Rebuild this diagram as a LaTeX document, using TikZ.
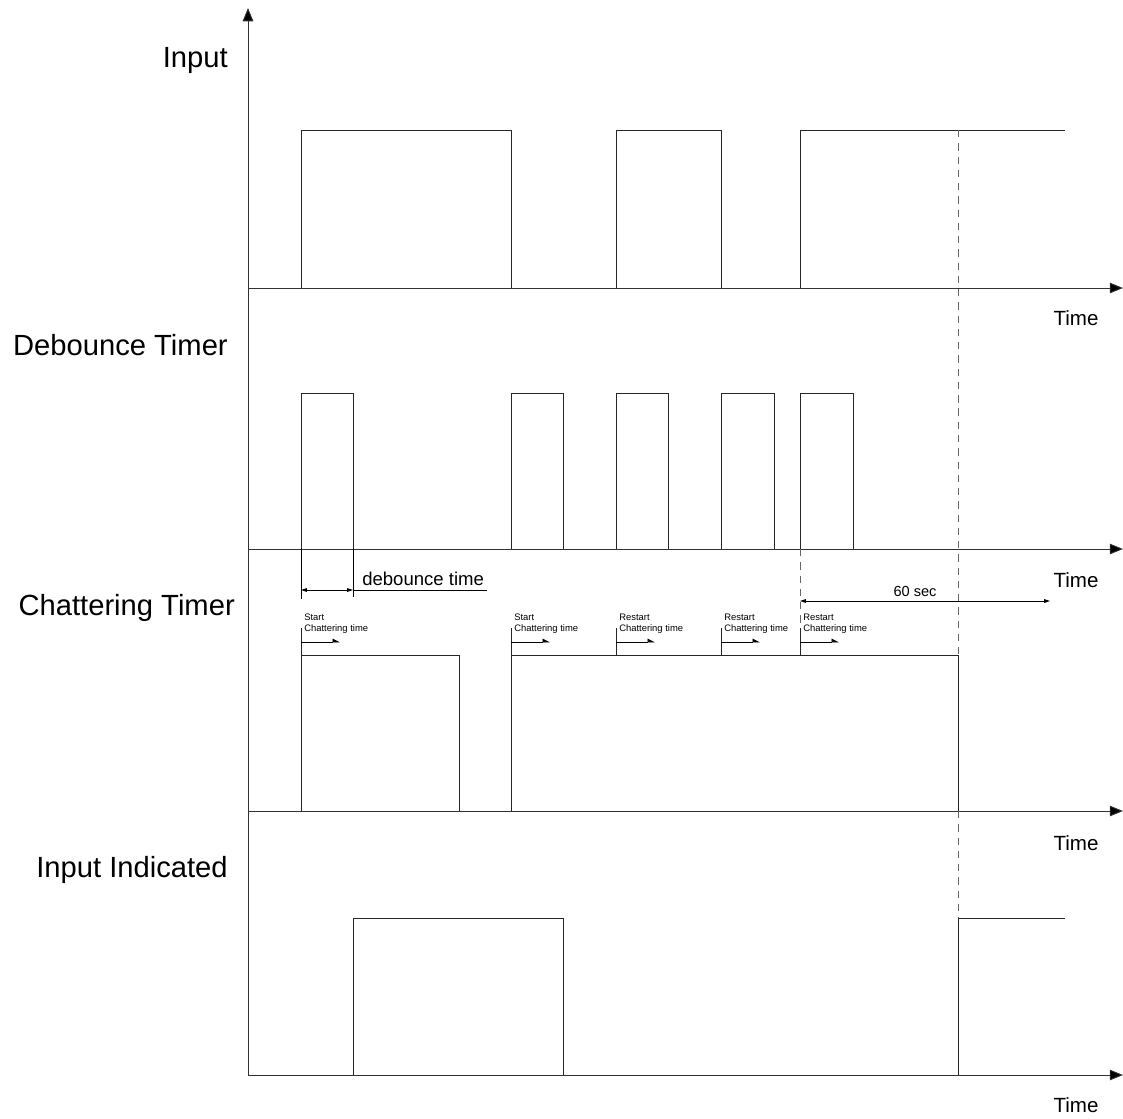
\documentclass[tikz,border=0pt]{standalone}
\usepackage{fontspec}
\setmainfont{Liberation Sans}
\usetikzlibrary{arrows.meta}

\begin{document}
\begin{tikzpicture}[x=0.0265cm, y=-0.0265cm,
    wave/.style={line width=0.7pt, black!85},
    axis/.style={line width=0.7pt, black!80, -{Triangle[length=10pt,width=8pt,fill=black]}},
    guide/.style={line width=0.6pt, black!60, dash pattern=on 5.5pt off 4.5pt},
    dimline/.style={line width=0.6pt, {Triangle[length=4.5pt,width=2.8pt]}-{Triangle[length=4.5pt,width=2.8pt]}},
    runarrow/.style={line width=0.6pt, -{Triangle[length=5pt,width=5pt,harpoon]}},
    rowlabel/.style={anchor=east, inner sep=0pt, font=\fontsize{22}{26}\selectfont},
    timelabel/.style={inner sep=0pt, font=\fontsize{15.5}{18}\selectfont},
    tinylabel/.style={anchor=north west, align=left, inner sep=0pt, font=\fontsize{7.1}{8.3}\selectfont}]

    \useasboundingbox (0,0) rectangle (1123,1118);

    % Define time axes: baseline / label y-position
    \def\axes{288/318, 549/580, 811/843, 1075/1105}

    % Draw vertical axis and time axes
    \coordinate (origin) at (248,1075);
    \coordinate (ytip) at (248,8);
    \draw[axis] (origin) -- (ytip);
    \foreach \ybase/\ylab [count=\i] in \axes {
        \coordinate (ax\i) at (248,\ybase);
        \coordinate (axtip\i) at (1123,\ybase);
        \draw[axis] (ax\i) -- (axtip\i);
        \node[timelabel] (time\i) at (1076,\ylab) {Time};
    }

    % Draw row labels
    \node[rowlabel] (lblinput) at (228,60) {Input};
    \node[rowlabel] (lbldebounce) at (228,345) {Debounce Timer};
    \node[rowlabel] (lblchatter) at (235,608) {Chattering Timer};
    \node[rowlabel] (lblindicated) at (228,870) {Input Indicated};

    % Draw input signal
    \foreach \a/\b in {301/511, 616/721} {
        \draw[wave] (\a,288) |- (\b,130) -- (\b,288);
    }
    \draw[wave] (800,288) |- (1065,130);

    % Draw debounce timer pulses
    \foreach \a/\b in {301/353, 511/563, 616/668, 721/774, 800/853} {
        \draw[wave] (\a,549) |- (\b,393) -- (\b,549);
    }

    % Draw chattering timer
    \draw[wave] (301,811) |- (459,655) -- (459,811);
    \draw[wave] (511,811) |- (958,655) -- (958,811);

    % Start / restart marks with labels
    \foreach \x/\word in {301/Start, 511/Start, 616/Restart, 721/Restart, 800/Restart} {
        \draw[wave, line width=0.6pt] (\x,655) -- (\x,628);
        \node[tinylabel] (mark\x) at (\x+3,614) {\word\\Chattering time};
        \draw[runarrow] (\x,642) -- (\x+39,642);
    }

    % Debounce time dimension
    \draw[line width=0.6pt] (301,549) -- (301,599);
    \draw[line width=0.6pt] (353,549) -- (353,597);
    \coordinate (dbA) at (301,590);
    \coordinate (dbB) at (353,590);
    \coordinate (dbC) at (487,590);
    \draw[dimline] (dbA) -- (dbB);
    \draw[line width=0.6pt] (dbB) -- (dbC);
    \node[anchor=south west, inner sep=0pt, font=\fontsize{14}{16}\selectfont] (dbtext) at (362,586) {debounce time};

    % 60 sec dimension
    \draw[guide] (800,549) -- (800,628);
    \coordinate (secA) at (800,601);
    \coordinate (secB) at (1050,601);
    \draw[dimline] (secA) -- (secB);
    \node[anchor=south, inner sep=0pt, font=\fontsize{11}{13}\selectfont] (sectext) at (915,597) {60 sec};

    % Chattering end guide
    \draw[guide] (958,130) -- (958,655);
    \draw[guide] (958,811) -- (958,918);

    % Draw input indicated
    \draw[wave] (353,1075) |- (563,918) -- (563,1075);
    \draw[wave] (958,1075) |- (1065,918);

\end{tikzpicture}
\end{document}
